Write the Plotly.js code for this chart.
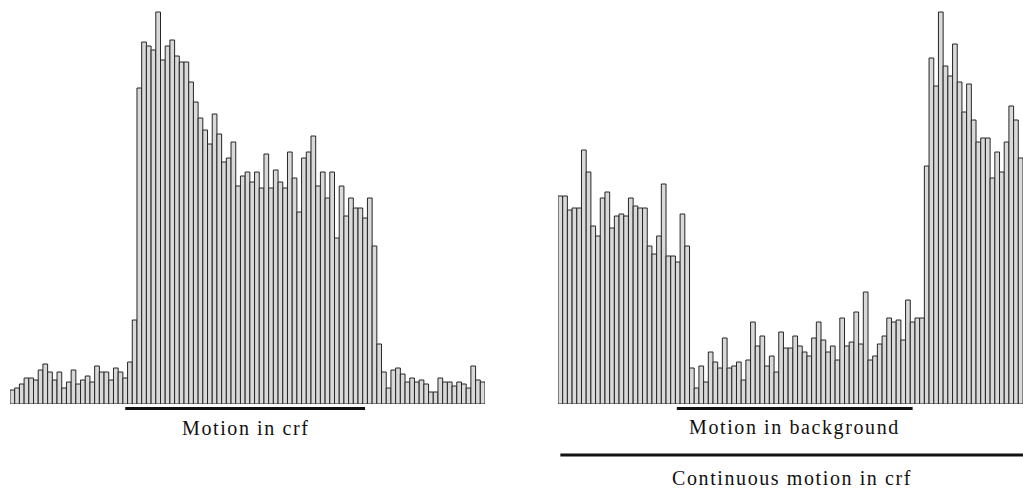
<!DOCTYPE html>
<html>
<head>
<meta charset="utf-8">
<script src="https://cdn.plot.ly/plotly-3.0.1.min.js"></script>
<style>
  html, body { margin: 0; padding: 0; background: #fff; }
  #chart { width: 1023px; height: 490px; }
  .annotation-text { letter-spacing: 1.6px; }
</style>
</head>
<body>
<div id="chart"></div>
<script>
// Spike counts per time bin (PSTH), stimulus in the classical receptive field
const crfSpikes = [
  7, 8, 10, 13, 13, 12, 17, 20, 16, 12, 16, 8, 11, 17, 10, 12, 14, 11, 19, 16, 16, 12, 18, 16, 13, 21,
  42, 158, 181, 179, 177, 196, 172, 179, 182, 174, 171, 171, 161, 151, 143, 137, 130, 145, 135, 121,
  123, 131, 109, 114, 116, 111, 116, 108, 125, 108, 117, 111, 108, 126, 113, 96, 123, 126, 134, 109,
  116, 103, 116, 83, 109, 94, 103, 98, 98, 93, 103, 79,
  30, 16, 8, 17, 18, 15, 11, 13, 11, 12, 10, 6, 6, 13, 11, 11, 9, 11, 10, 8, 19, 12, 11
];

// Spike counts per time bin, continuous crf motion with background motion added
const bgSpikes = [
  104, 104, 97, 98, 98, 127, 116, 89, 84, 103, 106, 88, 94, 95, 94, 103, 99, 98, 98, 79,
  75, 84, 110, 74, 74, 71, 95, 79,
  18, 8, 19, 11, 26, 21, 18, 33, 18, 19, 21, 12, 22, 41, 29, 34, 19, 24, 16, 36,
  28, 28, 34, 29, 26, 24, 33, 41, 32, 26, 29, 22, 43, 29, 31, 46, 30, 56, 22, 24,
  30, 34, 43, 41, 42, 32, 52, 41, 43, 43,
  119, 173, 159, 196, 169, 164, 180, 161, 146, 160, 142, 131, 133, 133, 113, 126, 116, 131, 149, 142, 123
];

// Stimulus periods, in bins
const crfPeriod = [24, 75];
const bgPeriod = [24.8, 75];
const contPeriod = [0, 110];

// Period labels
const crfLabel = 'Motion in crf';
const bgLabel = 'Motion in background';
const contLabel = 'Continuous motion in crf';

const binsOf = arr => arr.map((_, i) => i);

const barStyle = {
  color: '#d9d9d9',
  line: { color: '#262626', width: 1 }
};

const traces = [
  { type: 'bar', x: binsOf(crfSpikes), y: crfSpikes, xaxis: 'x', yaxis: 'y',
    marker: barStyle, width: 1, hoverinfo: 'skip' },
  { type: 'bar', x: binsOf(bgSpikes), y: bgSpikes, xaxis: 'x2', yaxis: 'y2',
    marker: barStyle, width: 1, hoverinfo: 'skip' }
];

const hidden = { visible: false, fixedrange: true };
const baseDomain = [86 / 490, 1];

const lineStyle = { color: '#111', width: 3 };
const labelFont = { family: 'Liberation Serif, Times New Roman, serif', size: 20, color: '#111' };

const layout = {
  width: 1023,
  height: 490,
  margin: { l: 0, r: 0, t: 0, b: 0 },
  paper_bgcolor: '#fff',
  plot_bgcolor: 'rgba(0,0,0,0)',
  showlegend: false,
  bargap: 0,
  xaxis: Object.assign({ domain: [10 / 1023, 485 / 1023], range: [-0.5, crfSpikes.length - 0.5] }, hidden),
  yaxis: Object.assign({ domain: baseDomain, range: [0, 202] }, hidden),
  xaxis2: Object.assign({ domain: [558 / 1023, 1], range: [-0.5, bgSpikes.length - 0.5], anchor: 'y2' }, hidden),
  yaxis2: Object.assign({ domain: baseDomain, range: [0, 202], anchor: 'x2' }, hidden),
  shapes: [
    { type: 'line', xref: 'x', yref: 'paper', x0: crfPeriod[0], x1: crfPeriod[1], y0: 0.1663, y1: 0.1663, line: lineStyle },
    { type: 'line', xref: 'x2', yref: 'paper', x0: bgPeriod[0], x1: bgPeriod[1], y0: 0.1663, y1: 0.1663, line: lineStyle },
    { type: 'line', xref: 'x2', yref: 'paper', x0: contPeriod[0], x1: contPeriod[1], y0: 0.0714, y1: 0.0714, line: lineStyle }
  ],
  annotations: [
    { xref: 'x', yref: 'paper', x: (crfPeriod[0] + crfPeriod[1]) / 2, y: 0.127, text: crfLabel,
      showarrow: false, xanchor: 'center', yanchor: 'middle', font: labelFont },
    { xref: 'x2', yref: 'paper', x: (bgPeriod[0] + bgPeriod[1]) / 2, y: 0.127, text: bgLabel,
      showarrow: false, xanchor: 'center', yanchor: 'middle', font: labelFont },
    { xref: 'x2', yref: 'paper', x: 49.4, y: 0.025, text: contLabel,
      showarrow: false, xanchor: 'center', yanchor: 'middle', font: labelFont }
  ]
};

Plotly.newPlot('chart', traces, layout, { staticPlot: true, displayModeBar: false });
</script>
</body>
</html>
